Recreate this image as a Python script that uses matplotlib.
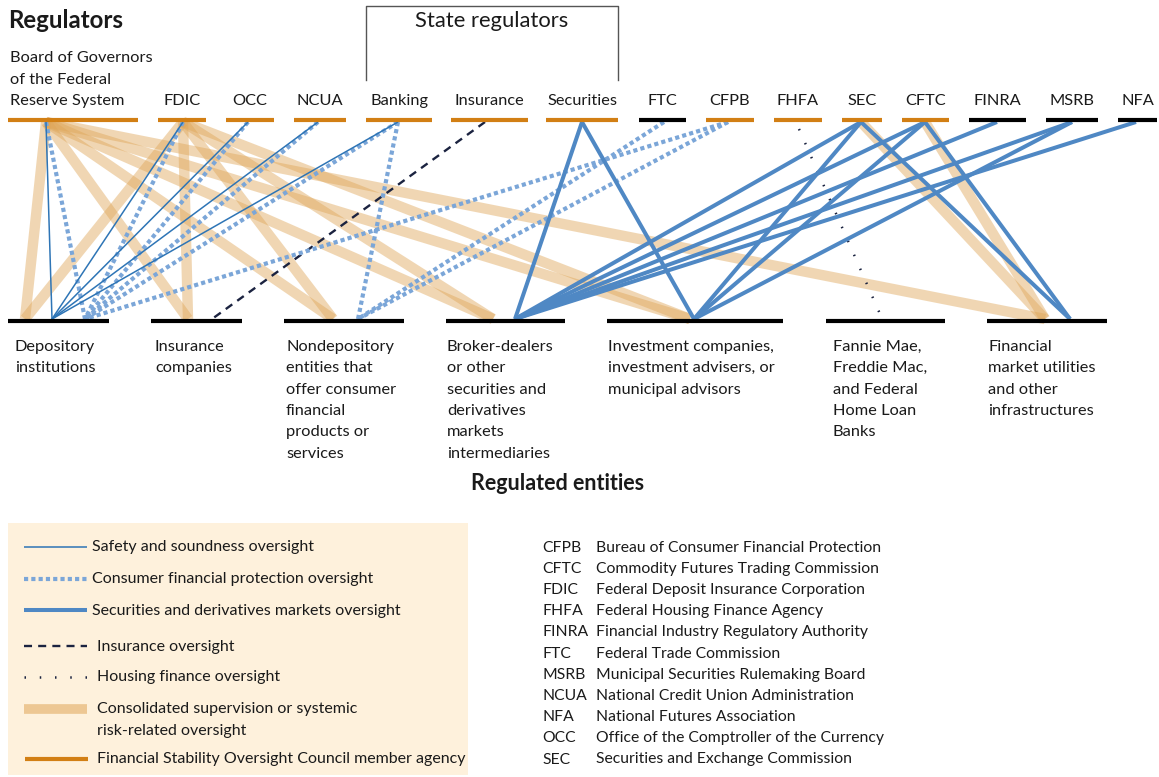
import matplotlib.pyplot as plt

# ---- chart data ----
regulators = ["FRB", "FDIC", "OCC", "NCUA", "Banking", "Insurance", "Securities",
              "FTC", "CFPB", "FHFA", "SEC", "CFTC", "FINRA", "MSRB", "NFA"]
regulator_labels = ["Board of Governors\nof the Federal\nReserve System", "FDIC", "OCC",
                    "NCUA", "Banking", "Insurance", "Securities", "FTC", "CFPB", "FHFA",
                    "SEC", "CFTC", "FINRA", "MSRB", "NFA"]
fsoc_members = ["FRB", "FDIC", "OCC", "NCUA", "Banking", "Insurance", "Securities",
                "CFPB", "FHFA", "SEC", "CFTC"]
state_regulators = ["Banking", "Insurance", "Securities"]

entities = ["dep", "ins", "nondep", "bd", "inv", "gse", "fmu"]
entity_labels = [
    "Depository\ninstitutions",
    "Insurance\ncompanies",
    "Nondepository\nentities that\noffer consumer\nfinancial\nproducts or\nservices",
    "Broker-dealers\nor other\nsecurities and\nderivatives\nmarkets\nintermediaries",
    "Investment companies,\ninvestment advisers, or\nmunicipal advisors",
    "Fannie Mae,\nFreddie Mac,\nand Federal\nHome Loan\nBanks",
    "Financial\nmarket utilities\nand other\ninfrastructures",
]

# oversight links: regulator -> regulated entity
safety_links = [("FRB", "dep"), ("FDIC", "dep"), ("OCC", "dep"), ("NCUA", "dep"),
                ("Banking", "dep")]
consumer_links = [("FRB", "dep"), ("FDIC", "dep"), ("OCC", "dep"), ("NCUA", "dep"),
                  ("Banking", "dep"), ("CFPB", "dep"), ("Banking", "nondep"),
                  ("FTC", "nondep"), ("CFPB", "nondep")]
securities_links = [("Securities", "bd"), ("Securities", "inv"), ("SEC", "bd"),
                    ("SEC", "inv"), ("SEC", "fmu"), ("CFTC", "bd"), ("CFTC", "inv"),
                    ("CFTC", "fmu"), ("FINRA", "bd"), ("MSRB", "bd"), ("MSRB", "inv"),
                    ("NFA", "bd")]
insurance_links = [("Insurance", "ins")]
housing_links = [("FHFA", "gse")]
systemic_links = [("FRB", "dep"), ("FRB", "ins"), ("FRB", "nondep"), ("FRB", "bd"),
                  ("FRB", "inv"), ("FRB", "fmu"), ("FDIC", "dep"), ("FDIC", "ins"),
                  ("FDIC", "nondep"), ("FDIC", "bd"), ("FDIC", "inv"),
                  ("SEC", "fmu"), ("CFTC", "fmu")]

legend_labels = ["Safety and soundness oversight", "Consumer financial protection oversight",
                 "Securities and derivatives markets oversight", "Insurance oversight",
                 "Housing finance oversight",
                 "Consolidated supervision or systemic\nrisk-related oversight",
                 "Financial Stability Oversight Council member agency"]

abbreviations = ["CFPB", "CFTC", "FDIC", "FHFA", "FINRA", "FTC", "MSRB", "NCUA", "NFA",
                 "OCC", "SEC"]
full_names = ["Bureau of Consumer Financial Protection", "Commodity Futures Trading Commission",
              "Federal Deposit Insurance Corporation", "Federal Housing Finance Agency",
              "Financial Industry Regulatory Authority", "Federal Trade Commission",
              "Municipal Securities Rulemaking Board", "National Credit Union Administration",
              "National Futures Association", "Office of the Comptroller of the Currency",
              "Securities and Exchange Commission"]

# ---- layout (pixel coordinates, y downwards) ----
W, H = 1159, 777
REG_Y, ENT_Y = 120, 321
reg_bars = {"FRB": (8, 138), "FDIC": (158, 206), "OCC": (226, 274), "NCUA": (294, 346),
            "Banking": (366, 432), "Insurance": (451, 528), "Securities": (546, 618),
            "FTC": (639, 686), "CFPB": (706, 754), "FHFA": (774, 822), "SEC": (842, 882),
            "CFTC": (902, 949), "FINRA": (969, 1026), "MSRB": (1046, 1098),
            "NFA": (1118, 1157)}
reg_anchor = {"FRB": 46, "FDIC": 183, "OCC": 248, "NCUA": 318, "Banking": 398,
              "Insurance": 485, "Securities": 582, "FTC": 664, "CFPB": 728, "FHFA": 799,
              "SEC": 861, "CFTC": 925, "FINRA": 997, "MSRB": 1072, "NFA": 1136}
ent_bars = {"dep": (8, 109), "ins": (151, 242), "nondep": (284, 404), "bd": (446, 565),
            "inv": (607, 783), "gse": (826, 945), "fmu": (987, 1107)}
ent_text_x = {"dep": 15, "ins": 155, "nondep": 286, "bd": 447, "inv": 608, "gse": 833,
              "fmu": 988}
ent_anchor = {
    "safety": {"dep": 52},
    "consumer": {"dep": 85, "nondep": 358},
    "securities": {"bd": 515, "inv": 694, "fmu": 1070},
    "insurance": {"ins": 212},
    "housing": {"gse": 880},
    "systemic": {"dep": 25, "ins": 188, "nondep": 333, "bd": 493, "inv": 690, "fmu": 1045},
}

ORANGE = "#D27F14"
styles = {
    "safety": dict(color="#2E75B6", lw=1.1, ls="-"),
    "consumer": dict(color="#7BA6D8", lw=3.0, ls=(0, (1.0, 0.75))),
    "securities": dict(color="#4F88C4", lw=2.9, ls="-"),
    "insurance": dict(color="#1B2340", lw=1.7, ls=(0, (3.4, 2.6))),
    "housing": dict(color="#1B2340", lw=1.8, ls=(0, (0.6, 5.5))),
    "systemic": dict(color="#DFA658", lw=7.5, ls="-", alpha=0.45),
}
link_sets = [("systemic", systemic_links), ("insurance", insurance_links),
             ("housing", housing_links), ("consumer", consumer_links),
             ("safety", safety_links), ("securities", securities_links)]

plt.rcParams["font.family"] = ["Lato", "DejaVu Sans"]
FS = 11.8        # regulator / entity labels
FS_LEG = 11.5    # legend text
FS_ABB = 11.3    # abbreviation list
TXT = "#1A1A1A"

fig = plt.figure(figsize=(W / 100, H / 100), dpi=100)
ax = fig.add_axes([0, 0, 1, 1])
ax.set_xlim(0, W)
ax.set_ylim(H, 0)
ax.axis("off")

# links
for kind, links in link_sets:
    st = styles[kind]
    for reg, ent in links:
        y0, y1 = REG_Y + 2, ENT_Y - 2
        if kind == "housing":
            y0, y1 = 129, 314
        ax.plot([reg_anchor[reg], ent_anchor[kind][ent]], [y0, y1],
                solid_capstyle="butt", zorder=3 if kind == "systemic" else 4, **st)

# regulator bars and labels
for reg, label in zip(regulators, regulator_labels):
    x0, x1 = reg_bars[reg]
    color = ORANGE if reg in fsoc_members else "black"
    ax.plot([x0, x1], [REG_Y, REG_Y], color=color, lw=3, solid_capstyle="butt", zorder=5)
    lines = label.split("\n")
    for i, line in enumerate(lines):
        y = 105 - (len(lines) - 1 - i) * 21.3
        if reg == "FRB":
            ax.text(10, y, line, fontsize=FS, color=TXT, va="baseline", ha="left")
        else:
            ax.text((x0 + x1) / 2, y, line, fontsize=FS, color=TXT, va="baseline",
                    ha="center")

# state regulators bracket
sx0, sx1 = reg_bars[state_regulators[0]][0], reg_bars[state_regulators[-1]][1]
ax.plot([sx0, sx0, sx1, sx1], [80, 6, 6, 80], color="#555555", lw=1.0)
ax.text((sx0 + sx1) / 2, 27, "State regulators", fontsize=15.8, color=TXT,
        ha="center", va="baseline")
ax.text(8, 28, "Regulators", fontsize=17.3, fontweight="bold", color=TXT,
        ha="left", va="baseline")

# entity bars and labels
for ent, label in zip(entities, entity_labels):
    x0, x1 = ent_bars[ent]
    ax.plot([x0, x1], [ENT_Y, ENT_Y], color="black", lw=3, solid_capstyle="butt", zorder=5)
    for i, line in enumerate(label.split("\n")):
        ax.text(ent_text_x[ent], 351 + i * 21.3, line, fontsize=FS, color=TXT,
                va="baseline", ha="left")
ax.text(558, 490, "Regulated entities", fontsize=15.5, fontweight="bold", color=TXT,
        ha="center", va="baseline")

# legend box
ax.add_patch(plt.Rectangle((8, 523), 460, 252, facecolor="#FEF1DC", edgecolor="none",
                           zorder=1))
legend_kinds = ["safety", "consumer", "securities", "insurance", "housing", "systemic", "fsoc"]
legend_y = [547, 579, 610, 646, 677, 709, 759]
for kind, label, y in zip(legend_kinds, legend_labels, legend_y):
    if kind == "fsoc":
        ax.plot([25, 88], [y, y], color=ORANGE, lw=3, solid_capstyle="butt", zorder=4)
    else:
        st = dict(styles[kind])
        if kind == "systemic":
            st.update(lw=7, alpha=0.55)
        ax.plot([24, 87], [y, y], solid_capstyle="butt", zorder=4, **st)
    tx = 92 if kind in ("safety", "consumer", "securities") else 97
    for i, line in enumerate(label.split("\n")):
        ax.text(tx, y + 4.5 + i * 21.3, line, fontsize=FS_LEG, color=TXT, va="baseline",
                ha="left")

# abbreviations
for i, (ab, name) in enumerate(zip(abbreviations, full_names)):
    y = 551.5 + i * 21.2
    ax.text(542, y, ab, fontsize=FS_ABB, color=TXT, va="baseline", ha="left")
    ax.text(596, y, name, fontsize=FS_ABB, color=TXT, va="baseline", ha="left")

fig.savefig("out.png", dpi=100)
